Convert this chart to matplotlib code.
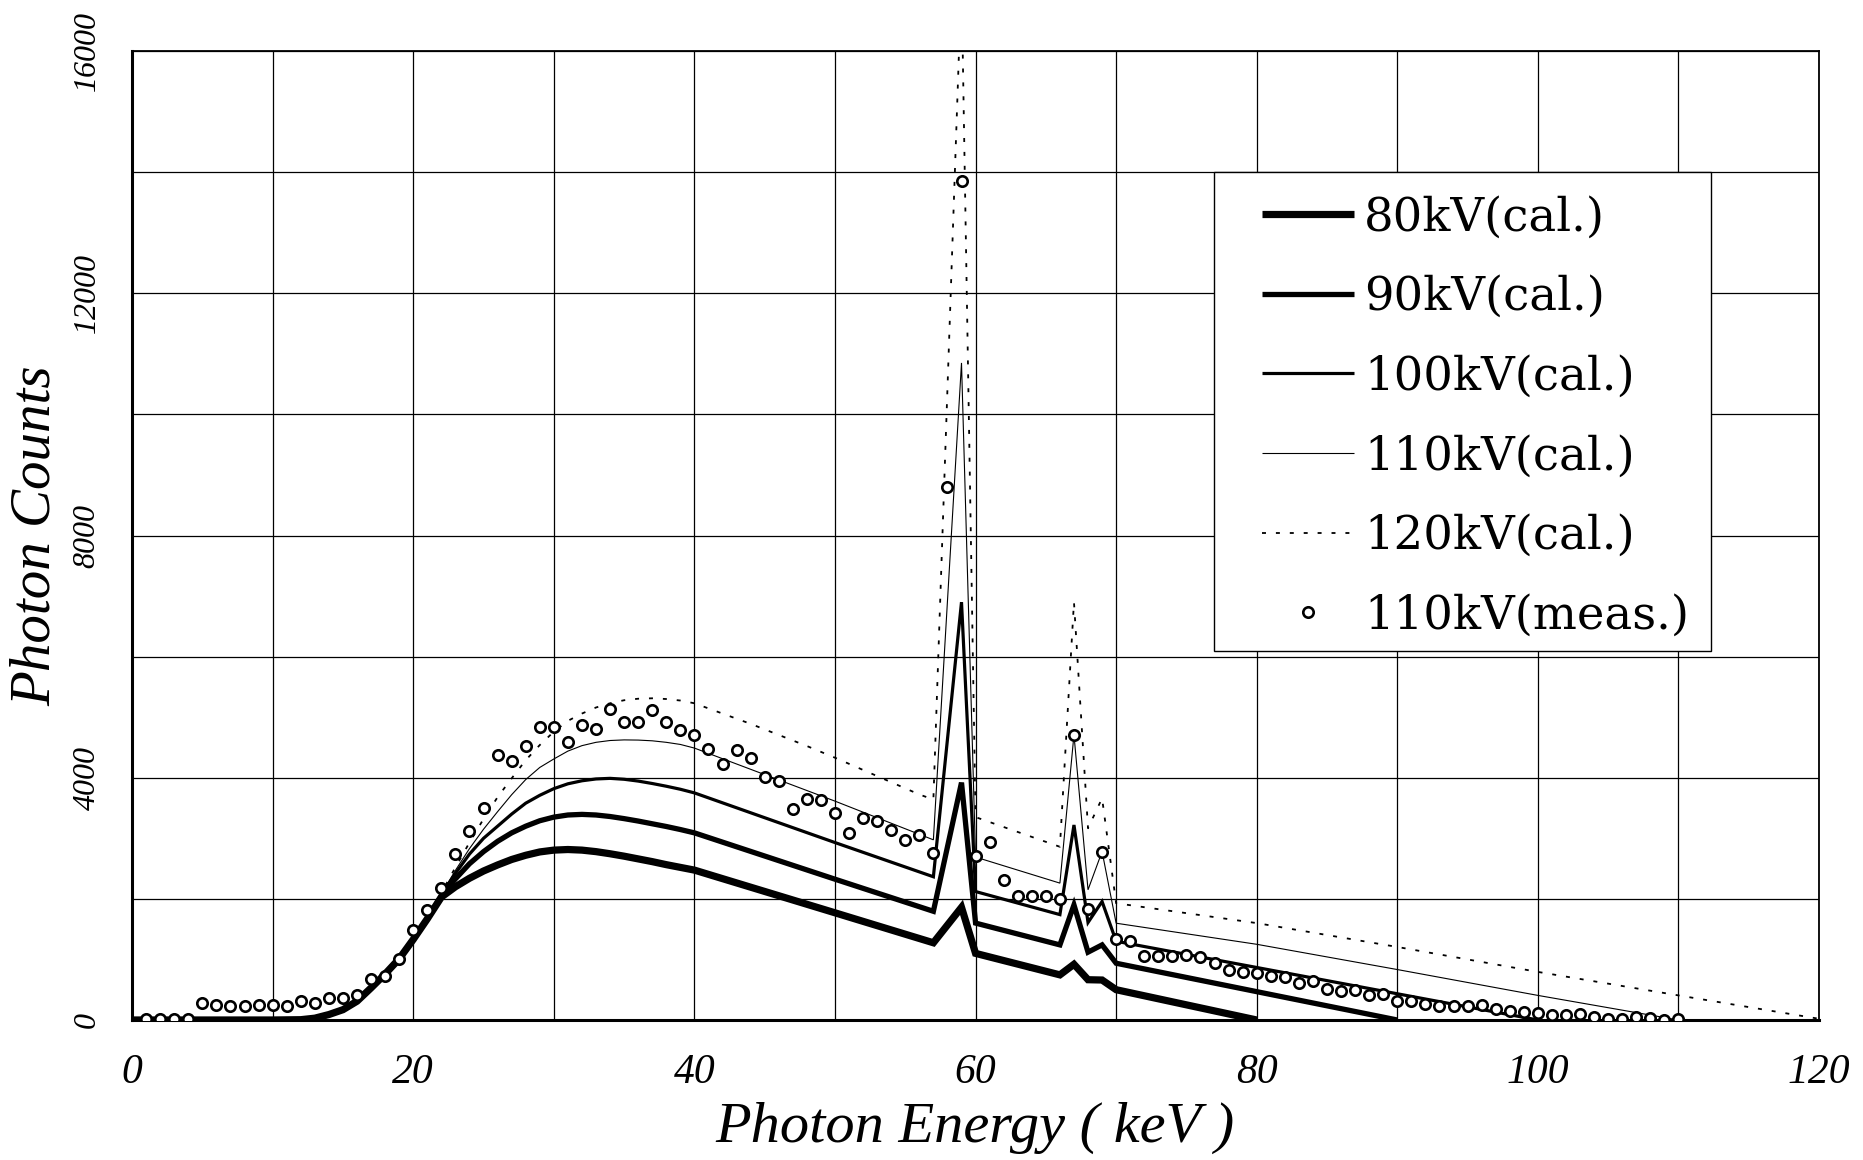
import matplotlib
matplotlib.use('Agg')
import matplotlib.pyplot as plt
from matplotlib.patches import Rectangle

plt.rcParams['font.family'] = ['Liberation Serif', 'DejaVu Serif']

# ---------------- data ----------------
# common low-energy rising edge shared by all calculated spectra
rise_energy = [0, 2, 4, 6, 8, 10, 12, 13, 14, 15, 16, 17, 18, 19, 20, 21]
rise_counts = [0, 0, 0, 0, 0, 0, 5, 30, 90, 170, 310, 530, 760, 1010, 1330, 1670]

# broad bremsstrahlung hump 22..40 keV
body_energy = [22, 23, 24, 25, 26, 27, 28, 29, 30, 31, 32, 33, 34, 35, 36, 37, 38, 39, 40]
c80_body = [2030, 2200, 2340, 2460, 2560, 2650, 2720, 2775, 2805, 2815, 2805, 2780, 2745, 2705, 2660, 2615, 2565, 2520, 2475]
c90_body = [2050, 2330, 2580, 2780, 2950, 3090, 3200, 3290, 3350, 3385, 3395, 3385, 3360, 3325, 3285, 3240, 3195, 3145, 3090]
c100_body = [2070, 2420, 2740, 3000, 3200, 3400, 3580, 3710, 3820, 3900, 3950, 3980, 3990, 3975, 3945, 3905, 3860, 3810, 3750]
c110_body = [2080, 2470, 2830, 3150, 3440, 3720, 3970, 4170, 4310, 4440, 4530, 4585, 4615, 4625, 4622, 4610, 4585, 4550, 4490]
c120_body = [2100, 2520, 2930, 3320, 3680, 3990, 4290, 4540, 4760, 4940, 5060, 5160, 5230, 5280, 5305, 5312, 5300, 5275, 5230]

# high-energy part with characteristic K lines
e80_tail = [50, 57, 59, 60, 66, 67, 68, 69, 70, 80]
c80_tail = [1770, 1275, 1860, 1100, 745, 920, 665, 660, 500, 0]
e90_tail = [50, 57, 59, 60, 66, 67, 68, 69, 70, 80, 90]
c90_tail = [2325, 1795, 3920, 1600, 1240, 1900, 1120, 1240, 937, 468, 0]
e100_tail = [50, 57, 59, 60, 66, 67, 68, 69, 70, 80, 90, 100]
c100_tail = [2930, 2365, 6900, 2121, 1740, 3220, 1610, 1956, 1300, 867, 433, 0]
e110_tail = [50, 57, 59, 60, 66, 67, 68, 69, 70, 80, 90, 100, 110]
c110_tail = [3614, 2975, 10850, 2690, 2260, 4710, 2150, 2782, 1598, 1250, 833, 406, 0]
e120_tail = [44, 48, 50, 56, 57, 59, 60, 66, 67, 68, 69, 70, 80, 90, 100, 110, 120]
c120_tail = [4890, 4524, 4331, 3724, 3640, 17200, 3350, 2860, 6900, 3166, 3662, 1928, 1600, 1206, 794, 406, 20]

# measured 110 kV spectrum (1 keV bins, 1..110 keV)
meas_energy = list(range(1, 111))
meas_counts = [10, 10, 10, 15, 275, 247, 231, 231, 247, 242,
               225, 319, 286, 368, 357, 420, 670, 725, 1010, 1480,
               1815, 2174, 2739, 3115, 3502, 4371, 4277, 4525, 4830, 4830,
               4592, 4869, 4802, 5134, 4913, 4913, 5123, 4913, 4791, 4708,
               4480, 4221, 4458, 4320, 4017, 3945, 3487, 3641, 3630, 3410,
               3090, 3338, 3294, 3145, 2979, 3062, 2759, 8800, 13850, 2700,
               2945, 2314, 2055, 2055, 2055, 1990, 4710, 1840, 2782, 1340,
               1300, 1050, 1063, 1063, 1074, 1047, 937, 826, 790, 780,
               722, 711, 611, 650, 511, 472, 489, 417, 433, 317,
               306, 267, 239, 233, 233, 250, 183, 156, 140, 115,
               78, 89, 100, 56, 17, 17, 44, 28, 6, 17]

labels = ['80kV(cal.)', '90kV(cal.)', '100kV(cal.)', '110kV(cal.)', '120kV(cal.)', '110kV(meas.)']
x_ticks = [0, 20, 40, 60, 80, 100, 120]
y_ticks = [0, 4000, 8000, 12000, 16000]

# ---------------- figure ----------------
fig = plt.figure(figsize=(18.63, 11.60), dpi=100)
ax = fig.add_axes([0.0709, 0.1207, 0.9055, 0.8353])

series = [
    (rise_energy + body_energy + e80_tail, rise_counts + c80_body + c80_tail, 5.2, None),
    (rise_energy + body_energy + e90_tail, rise_counts + c90_body + c90_tail, 3.8, None),
    (rise_energy + body_energy + e100_tail, rise_counts + c100_body + c100_tail, 2.3, None),
    (rise_energy + body_energy + e110_tail, rise_counts + c110_body + c110_tail, 0.8, None),
    (rise_energy + body_energy + e120_tail, rise_counts + c120_body + c120_tail, 1.3, (2.2, 5.5)),
]
handles = []
for (xs, ys, lw, dash), lab in zip(series, labels[:5]):
    if dash is None:
        ln, = ax.plot(xs, ys, color='black', lw=lw, solid_joinstyle='miter',
                      solid_capstyle='butt', label=lab, zorder=3)
    else:
        ln, = ax.plot(xs, ys, color='black', lw=lw, dashes=dash, label=lab, zorder=3)
    handles.append(ln)

mk, = ax.plot(meas_energy, meas_counts, linestyle='none', marker='o', ms=7.5,
              mfc='white', mec='black', mew=1.9, label=labels[5], zorder=4)
handles.append(mk)

ax.set_xlim(0, 120)
ax.set_ylim(0, 16000)
ax.set_xticks(x_ticks)
ax.set_xticks([10, 30, 50, 70, 90, 110], minor=True)
ax.set_yticks(y_ticks)
ax.set_yticks([2000, 6000, 10000, 14000], minor=True)
ax.set_xticklabels([str(v) for v in x_ticks], fontsize=30, style='italic')
ax.set_yticklabels([str(v) for v in y_ticks], fontsize=23, style='italic',
                   rotation=90, va='center')
ax.tick_params(axis='both', which='both', length=0)
ax.tick_params(axis='x', pad=24)
ax.tick_params(axis='y', pad=22)
ax.grid(True, which='both', color='black', lw=0.9)
ax.set_axisbelow(True)

for side in ['left', 'bottom']:
    ax.spines[side].set_linewidth(2.2)
for side in ['top', 'right']:
    ax.spines[side].set_linewidth(1.3)

fig.text(0.5234, 0.0276, 'Photon Energy ( keV )', fontsize=42, style='italic',
         ha='center', va='center')
fig.text(0.019, 0.538, 'Photon Counts', fontsize=41, style='italic',
         rotation=90, ha='center', va='center')

# legend box
box = Rectangle((0.6414, 0.3808), 0.2946, 0.4943, transform=ax.transAxes,
                facecolor='white', edgecolor='black', lw=1.0, zorder=5)
ax.add_patch(box)
leg = ax.legend(handles=handles, labels=labels, loc='upper left',
                bbox_to_anchor=(1262 / 1863, 1 - 195 / 1160),
                bbox_transform=fig.transFigure, frameon=False,
                prop={'family': ['DejaVu Serif'], 'size': 33.5},
                borderpad=0, borderaxespad=0,
                handlelength=1.98, handletextpad=0.21, labelspacing=0.74,
                numpoints=1)
leg.set_zorder(6)

fig.savefig('out.png', dpi=100)
